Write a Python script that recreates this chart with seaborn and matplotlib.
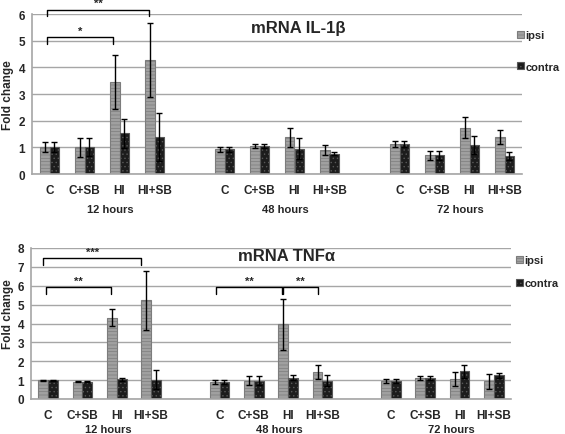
import matplotlib
matplotlib.use("Agg")
import numpy as np
import pandas as pd
import seaborn as sns
import matplotlib.pyplot as plt
import matplotlib.patches as mpatches
from matplotlib import transforms

sns.set_style("white")
plt.rcParams['font.family'] = ['Liberation Sans', 'DejaVu Sans']
plt.rcParams['font.weight'] = 'bold'
plt.rcParams['hatch.linewidth'] = 0.5

# categories
groups = ["12 hours", "48 hours", "72 hours"]
conditions = ["C", "C+SB", "HI", "HI+SB"]
sides = ["ipsi", "contra"]

# IL-1b values (fold change) and SEM, ordered 12h, 48h, 72h x C, C+SB, HI, HI+SB
il1b_ipsi = [1.00, 1.00, 3.45, 4.28, 0.93, 1.05, 1.38, 0.89, 1.12, 0.70, 1.74, 1.38]
il1b_ipsi_err = [0.19, 0.35, 1.03, 1.40, 0.10, 0.08, 0.35, 0.18, 0.11, 0.18, 0.38, 0.27]
il1b_contra = [1.00, 1.00, 1.53, 1.38, 0.93, 1.05, 0.95, 0.76, 1.12, 0.70, 1.09, 0.69]
il1b_contra_err = [0.19, 0.34, 0.55, 0.90, 0.10, 0.08, 0.40, 0.06, 0.11, 0.18, 0.33, 0.15]

# TNFa values
tnf_ipsi = [1.00, 0.92, 4.30, 5.23, 0.90, 0.98, 3.95, 1.44, 0.97, 1.12, 1.07, 0.94]
tnf_ipsi_err = [0.02, 0.02, 0.45, 1.55, 0.10, 0.23, 1.35, 0.38, 0.10, 0.12, 0.38, 0.40]
tnf_contra = [1.00, 0.92, 1.04, 1.02, 0.90, 0.98, 1.12, 0.98, 0.97, 1.12, 1.46, 1.26]
tnf_contra_err = [0.03, 0.02, 0.08, 0.50, 0.10, 0.23, 0.13, 0.28, 0.10, 0.12, 0.35, 0.13]

# significance brackets: (start slot, end slot, bracket height, drop, label)
il1b_sig = [(-0.07, 1.82, 5.12, 0.25, "*"), (-0.07, 2.84, 6.16, 0.22, "**")]
tnf_sig = [(-0.14, 2.71, 7.47, 0.37, "***"), (-0.07, 1.83, 5.92, 0.34, "**"),
           (4.91, 6.83, 5.92, 0.34, "**"), (6.86, 7.86, 5.92, 0.34, "**")]

# slot order with empty gaps between time points
slot_order, slot_labels = [], []
for gi, g in enumerate(groups):
    for c in conditions:
        slot_order.append(g + " " + c)
        slot_labels.append(c)
    if gi < len(groups) - 1:
        slot_order.append("gap%d" % gi)
        slot_labels.append("")
data_slots = [s for s in slot_order if not s.startswith("gap")]

colors = {"ipsi": "#a0a0a0", "contra": "#1c1c1c"}
edges = {"ipsi": "#7c7c7c", "contra": "#585858"}
hatches = {"ipsi": "-----", "contra": "...."}
GRAY = "#a6a6a6"


def make_df(ipsi, ipsi_err, contra, contra_err):
    return pd.DataFrame({
        "slot": data_slots * 2,
        "side": ["ipsi"] * len(data_slots) + ["contra"] * len(data_slots),
        "value": ipsi + contra,
        "err": ipsi_err + contra_err,
    })


def panel(ax, df, ymax, sig, group_y):
    sns.barplot(data=df, x="slot", y="value", hue="side", order=slot_order,
                hue_order=sides, palette=colors, width=0.571, errorbar=None,
                legend=False, ax=ax, zorder=2)
    for bar in ax.patches:
        xc = bar.get_x() + bar.get_width() / 2
        idx = int(round(xc))
        side = "ipsi" if xc < idx else "contra"
        bar.set_edgecolor(edges[side])
        bar.set_hatch(hatches[side])
        bar.set_linewidth(0.8)
        row = df[(df.slot == slot_order[idx]) & (df.side == side)].iloc[0]
        ax.errorbar(xc, bar.get_height(), yerr=row.err, color="black", lw=1,
                    capsize=2.5, capthick=1, zorder=3)
    ax.set_xlim(-0.5, len(slot_order) - 0.5)
    ax.set_ylim(0, ymax)
    ax.set_yticks(range(0, ymax + 1))
    ax.grid(axis="y", color=GRAY, lw=1)
    ax.set_axisbelow(True)
    for s in ["top", "right"]:
        ax.spines[s].set_visible(False)
    for s in ["left", "bottom"]:
        ax.spines[s].set_color(GRAY)
        ax.spines[s].set_linewidth(1.2)
    ax.set_xticks(range(len(slot_order)))
    ax.set_xticklabels(slot_labels)
    ax.set_xticks(np.arange(-0.5, len(slot_order)), minor=True)
    ax.tick_params(axis="x", which="major", length=0, pad=7, labelsize=8.5)
    ax.tick_params(axis="x", which="minor", length=4, color=GRAY, width=1)
    ax.tick_params(axis="y", length=3, color=GRAY, labelsize=8.5, pad=2)
    ax.set_xlabel("")
    ax.set_ylabel("Fold change", fontsize=8.5, fontweight="bold")
    trans = transforms.blended_transform_factory(ax.transData, ax.transAxes)
    for gi, g in enumerate(groups):
        ax.text(gi * 5 + 1.5 + 0.25, group_y, g, transform=trans, ha="center",
                va="center", fontsize=8, fontweight="bold")
    for x1, x2, y, h, lab in sig:
        ax.plot([x1, x1, x2, x2], [y - h, y, y, y - h], color="black", lw=1,
                clip_on=False, zorder=4)
        ax.text((x1 + x2) / 2, y + 0.04 * ymax, lab, ha="center", va="center",
                fontsize=8, fontweight="bold", clip_on=False)


fig = plt.figure(figsize=(5.65, 4.35), dpi=100)
ax1 = fig.add_axes([32 / 565, 1 - 175 / 435, 490 / 565, 160 / 435])
ax2 = fig.add_axes([31 / 565, 1 - 400 / 435, 480 / 565, 151 / 435])

panel(ax1, make_df(il1b_ipsi, il1b_ipsi_err, il1b_contra, il1b_contra_err), 6, il1b_sig, -0.219)
panel(ax2, make_df(tnf_ipsi, tnf_ipsi_err, tnf_contra, tnf_contra_err), 8, tnf_sig, -0.2)
ax1.yaxis.set_label_coords(-0.037, 0.5)
ax2.yaxis.set_label_coords(-0.035, 0.57)

fig.text(298 / 565, 1 - 28 / 435, "mRNA IL-1\u03b2", ha="center", va="center",
         fontsize=12, fontweight="bold")
fig.text(287 / 565, 1 - 256.5 / 435, "mRNA TNF\u03b1", ha="center", va="center",
         fontsize=12, fontweight="bold")

handles = [mpatches.Patch(facecolor=colors[s], edgecolor=edges[s], hatch=hatches[s], lw=0.8)
           for s in sides]
fig.legend(handles, sides, loc="upper left", bbox_to_anchor=(517 / 565, 1 - 31 / 435),
           frameon=False, prop={"size": 8, "weight": "bold"}, handlelength=0.6,
           handleheight=0.6, handletextpad=0.15, labelspacing=1.95, borderpad=0,
           borderaxespad=0)
fig.legend(handles, sides, loc="upper left", bbox_to_anchor=(516 / 565, 1 - 256 / 435),
           frameon=False, prop={"size": 8, "weight": "bold"}, handlelength=0.6,
           handleheight=0.6, handletextpad=0.15, labelspacing=1.2, borderpad=0,
           borderaxespad=0)

fig.savefig("out.png", dpi=100)
